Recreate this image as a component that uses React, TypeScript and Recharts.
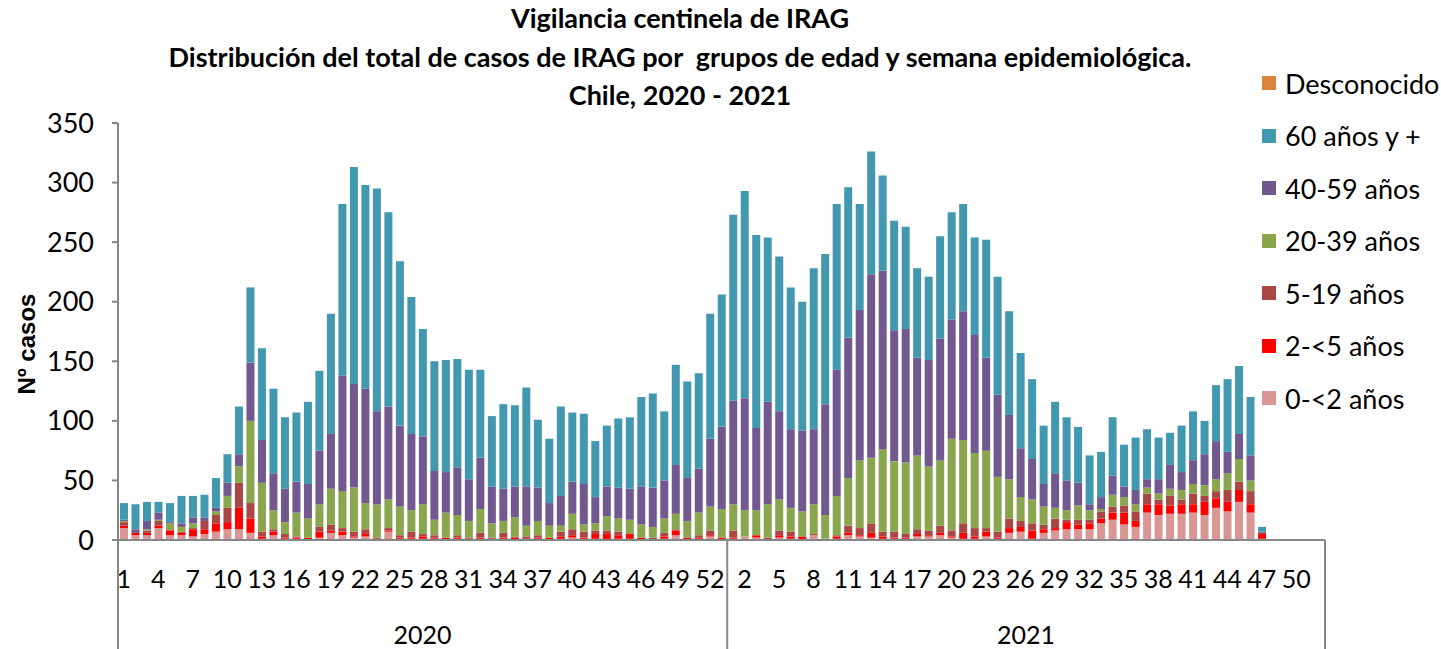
import { Bar, BarChart, XAxis, YAxis } from "recharts";

// Semanas epidemiológicas (2020 tuvo 53, 2021 tiene 52; datos hasta la SE 47)
const WEEKS_2020 = Array.from({ length: 53 }, (_, i) => i + 1);
const WEEKS_2021 = Array.from({ length: 52 }, (_, i) => i + 1);

const Y_TICKS = [0, 50, 100, 150, 200, 250, 300, 350];

// 2020, SE 1-53
const AGE_0_2_2020 = [10, 4, 4, 10, 4, 4, 3, 5, 7, 9, 9, 6, 1, 4, 1, 1, 0, 2, 6, 4, 2, 3, 0, 7, 1, 1, 1, 1, 0, 1, 0, 1, 0, 1, 0, 0, 1, 0, 1, 2, 1, 1, 0, 1, 1, 0, 0, 1, 4, 0, 1, 3, 0];
const AGE_2_5_2020 = [2, 2, 2, 2, 4, 2, 6, 4, 7, 6, 18, 12, 2, 3, 1, 1, 2, 5, 2, 3, 1, 2, 1, 1, 1, 1, 2, 1, 2, 1, 1, 1, 1, 1, 2, 1, 1, 2, 2, 2, 1, 4, 5, 3, 4, 2, 0, 2, 4, 2, 1, 1, 2];
const AGE_5_19_2020 = [3, 0, 2, 4, 1, 1, 1, 7, 7, 12, 21, 13, 4, 2, 3, 1, 0, 4, 5, 3, 4, 4, 1, 2, 2, 5, 2, 2, 0, 2, 1, 4, 1, 4, 1, 2, 2, 0, 4, 5, 5, 3, 3, 3, 0, 0, 2, 3, 1, 0, 2, 4, 0];
const AGE_20_39_2020 = [1, 0, 1, 1, 5, 4, 4, 0, 3, 10, 14, 69, 41, 16, 10, 20, 16, 19, 30, 31, 37, 22, 28, 24, 24, 18, 25, 13, 21, 17, 14, 20, 12, 10, 16, 9, 12, 10, 5, 13, 6, 6, 12, 11, 12, 11, 9, 12, 13, 14, 19, 20, 24];
const AGE_40_59_2020 = [1, 3, 7, 6, 1, 3, 5, 3, 3, 11, 10, 49, 36, 31, 28, 26, 29, 45, 46, 97, 87, 96, 78, 78, 68, 64, 57, 41, 34, 40, 35, 43, 31, 27, 26, 33, 28, 19, 25, 27, 34, 22, 25, 26, 26, 32, 33, 32, 41, 36, 37, 57, 69];
const AGE_60_2020 = [14, 21, 16, 9, 16, 23, 18, 19, 25, 24, 40, 63, 77, 71, 60, 58, 69, 67, 101, 144, 182, 171, 187, 163, 138, 115, 90, 92, 94, 91, 92, 74, 59, 71, 68, 83, 57, 54, 75, 58, 59, 47, 51, 58, 60, 75, 79, 58, 84, 81, 80, 105, 111];
const UNKNOWN_2020 = [0, 0, 0, 0, 0, 0, 0, 0, 0, 0, 0, 0, 0, 0, 0, 0, 0, 0, 0, 0, 0, 0, 0, 0, 0, 0, 0, 0, 0, 0, 0, 0, 0, 0, 0, 0, 0, 0, 0, 0, 0, 0, 0, 0, 0, 0, 0, 0, 0, 0, 0, 0, 0];

// 2021, SE 1-47
const AGE_0_2_2021 = [1, 3, 2, 0, 2, 1, 0, 4, 1, 1, 4, 3, 2, 1, 1, 1, 3, 3, 4, 2, 1, 1, 3, 1, 6, 7, 1, 6, 8, 9, 9, 9, 14, 17, 13, 11, 23, 21, 22, 22, 23, 21, 27, 24, 32, 23, 1];
const AGE_2_5_2021 = [1, 0, 2, 0, 2, 2, 3, 0, 0, 2, 2, 1, 4, 2, 1, 1, 2, 1, 2, 1, 5, 2, 4, 1, 4, 4, 7, 3, 2, 6, 4, 5, 4, 6, 10, 5, 7, 9, 7, 8, 7, 11, 8, 8, 10, 7, 4];
const AGE_5_19_2021 = [6, 0, 0, 2, 4, 4, 0, 1, 0, 1, 6, 6, 8, 4, 5, 3, 4, 4, 6, 5, 8, 7, 3, 5, 8, 5, 6, 4, 8, 2, 4, 3, 6, 5, 6, 8, 9, 4, 8, 4, 9, 5, 6, 10, 7, 11, 1];
const AGE_20_39_2021 = [22, 22, 21, 28, 26, 20, 21, 25, 20, 33, 40, 57, 55, 69, 59, 60, 62, 54, 55, 77, 70, 63, 65, 46, 33, 20, 20, 15, 9, 8, 12, 8, 2, 10, 7, 6, 5, 5, 6, 8, 8, 9, 10, 14, 19, 9, 0];
const AGE_40_59_2021 = [87, 94, 69, 86, 74, 66, 68, 63, 93, 106, 118, 126, 154, 150, 110, 112, 82, 89, 102, 100, 108, 99, 78, 69, 54, 41, 34, 19, 29, 25, 19, 5, 10, 16, 9, 12, 7, 12, 20, 15, 20, 26, 32, 18, 21, 21, 1];
const AGE_60_2021 = [156, 174, 162, 138, 130, 119, 108, 135, 126, 139, 126, 89, 103, 80, 92, 86, 75, 70, 86, 90, 90, 82, 99, 99, 87, 80, 67, 49, 60, 53, 47, 41, 38, 49, 35, 44, 42, 35, 27, 39, 41, 28, 47, 61, 57, 49, 4];
const UNKNOWN_2021 = [0, 0, 0, 0, 0, 0, 0, 0, 0, 0, 0, 0, 0, 0, 0, 0, 0, 0, 0, 0, 0, 0, 0, 0, 0, 0, 0, 0, 0, 0, 0, 0, 0, 0, 0, 0, 0, 0, 0, 0, 0, 0, 0, 0, 0, 0, 0];

// bottom to top of the stack
const SERIES = [
  { key: "a0_2", name: "0-<2 años", color: "#D99694", y2020: AGE_0_2_2020, y2021: AGE_0_2_2021 },
  { key: "a2_5", name: "2-<5 años", color: "#FF0000", y2020: AGE_2_5_2020, y2021: AGE_2_5_2021 },
  { key: "a5_19", name: "5-19 años", color: "#AA4643", y2020: AGE_5_19_2020, y2021: AGE_5_19_2021 },
  { key: "a20_39", name: "20-39 años", color: "#89A54E", y2020: AGE_20_39_2020, y2021: AGE_20_39_2021 },
  { key: "a40_59", name: "40-59 años", color: "#71588F", y2020: AGE_40_59_2020, y2021: AGE_40_59_2021 },
  { key: "a60", name: "60 años y +", color: "#4198AF", y2020: AGE_60_2020, y2021: AGE_60_2021 },
  { key: "unknown", name: "Desconocido", color: "#DB843D", y2020: UNKNOWN_2020, y2021: UNKNOWN_2021 },
];

const DATA = [
  ...WEEKS_2020.map((w, i) => {
    const row: Record<string, any> = { key: `2020-${w}`, week: w };
    SERIES.forEach((s) => (row[s.key] = s.y2020[i]));
    return row;
  }),
  ...WEEKS_2021.map((w, i) => {
    const row: Record<string, any> = { key: `2021-${w}`, week: w };
    SERIES.forEach((s) => (row[s.key] = s.y2021[i]));
    return row;
  }),
];

const W = 1441;
const H = 649;
const PLOT_LEFT = 118;
const PLOT_RIGHT = 1325;
const PLOT_TOP = 123;
const PLOT_BOTTOM = 540;
const Y_AXIS_W = 100;
const X_AXIS_H = 100;
const BAND = (PLOT_RIGHT - PLOT_LEFT) / DATA.length;
const AXIS = "#868686";
const FONT = "Lato, 'Open Sans', sans-serif";

function WeekTick(props: any) {
  const { x, index } = props;
  const row = DATA[index];
  return (
    <g>
      {index % 3 === 0 && (
        <text x={x} y={PLOT_BOTTOM + 38} textAnchor="middle" dominantBaseline="central" fontSize={25} fontFamily={FONT} fill="#000">
          {row.week}
        </text>
      )}
      {(index === 0 || index === WEEKS_2020.length) && (
        <line x1={x - BAND / 2} x2={x - BAND / 2} y1={PLOT_BOTTOM} y2={H} stroke={AXIS} strokeWidth={2} />
      )}
      {index === DATA.length - 1 && (
        <line x1={x + BAND / 2} x2={x + BAND / 2} y1={PLOT_BOTTOM} y2={H} stroke={AXIS} strokeWidth={2} />
      )}
      {index === 26 && (
        <text x={x} y={PLOT_BOTTOM + 94} textAnchor="middle" dominantBaseline="central" fontSize={25} fontFamily={FONT} fill="#000">
          2020
        </text>
      )}
      {index === 78 && (
        <text x={x + BAND / 2} y={PLOT_BOTTOM + 94} textAnchor="middle" dominantBaseline="central" fontSize={25} fontFamily={FONT} fill="#000">
          2021
        </text>
      )}
    </g>
  );
}

const titleLine: React.CSSProperties = {
  position: "absolute",
  left: 680 - 650,
  width: 1300,
  textAlign: "center",
  fontWeight: 700,
  fontSize: 27,
  lineHeight: "30px",
  whiteSpace: "pre",
};

export default function App() {
  return (
    <div style={{ position: "relative", width: W, height: H, background: "#fff", fontFamily: FONT, color: "#000", overflow: "hidden" }}>
      <style>{"body{margin:0}"}</style>
      <BarChart
        width={W}
        height={H}
        data={DATA}
        barSize={8}
        margin={{ top: PLOT_TOP, right: W - PLOT_RIGHT, bottom: H - PLOT_BOTTOM - X_AXIS_H, left: PLOT_LEFT - Y_AXIS_W }}
      >
        <XAxis
          dataKey="key"
          interval={0}
          height={X_AXIS_H}
          tickLine={false}
          axisLine={{ stroke: AXIS, strokeWidth: 2 }}
          tick={(p: any) => <WeekTick {...p} />}
        />
        <YAxis
          domain={[0, 350]}
          ticks={Y_TICKS}
          width={Y_AXIS_W}
          axisLine={{ stroke: AXIS, strokeWidth: 2 }}
          tickLine={{ stroke: AXIS, strokeWidth: 2 }}
          tickSize={6}
          tickMargin={18}
          tick={{ fontSize: 27, fill: "#000", fontFamily: FONT }}
        />
        {SERIES.map((s) => (
          <Bar key={s.key} dataKey={s.key} name={s.name} stackId="casos" fill={s.color} isAnimationActive={false} />
        ))}
      </BarChart>

      <div style={{ ...titleLine, top: 3 }}>Vigilancia centinela de IRAG</div>
      <div style={{ ...titleLine, top: 42 }}>{"Distribución del total de casos de IRAG por  grupos de edad y semana epidemiológica."}</div>
      <div style={{ ...titleLine, top: 80 }}>Chile, 2020 - 2021</div>

      <div
        style={{
          position: "absolute",
          left: 27,
          top: 344,
          transform: "translate(-50%, -50%) rotate(-90deg)",
          fontFamily: "'Liberation Sans', Arial, sans-serif",
          fontWeight: 700,
          fontSize: 24,
          whiteSpace: "nowrap",
        }}
      >
        Nº casos
      </div>

      <div style={{ position: "absolute", left: 1262, top: 57 }}>
        {[...SERIES].reverse().map((s) => (
          <div key={s.key} style={{ display: "flex", alignItems: "center", height: 52.5 }}>
            <span style={{ width: 14, height: 14, background: s.color, marginRight: 9, flex: "none" }} />
            <span style={{ fontSize: 27, whiteSpace: "nowrap" }}>{s.name}</span>
          </div>
        ))}
      </div>
    </div>
  );
}
